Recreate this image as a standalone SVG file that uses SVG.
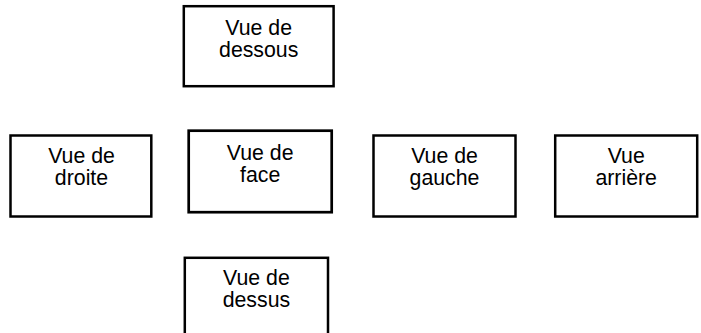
<svg xmlns="http://www.w3.org/2000/svg" width="701" height="333" viewBox="0 0 701 333">
<style>
.box{fill:#fff;stroke:#000;stroke-width:2.5}
.t{font-family:"Liberation Sans",Arial,sans-serif;font-size:21.3px;fill:#000;text-anchor:middle}
</style>
<rect width="701" height="333" fill="#fff"/>
<g id="connectors"></g>
<g id="dessous">
<rect class="box" x="183.8" y="6.2" width="149.8" height="80"/>
<text class="t" x="258.7" y="35">Vue de</text>
<text class="t" x="258.7" y="57">dessous</text>
</g>
<g id="droite">
<rect class="box" x="10.5" y="135.5" width="140.8" height="81"/>
<text class="t" x="81.5" y="163.3">Vue de</text>
<text class="t" x="81.5" y="185">droite</text>
</g>
<g id="face">
<rect class="box" x="188.7" y="130.7" width="143" height="81.5" style="stroke-width:2.7"/>
<text class="t" x="260.2" y="160">Vue de</text>
<text class="t" x="260.2" y="182.2">face</text>
</g>
<g id="gauche">
<rect class="box" x="373.5" y="135.5" width="142" height="81"/>
<text class="t" x="444.5" y="163.3">Vue de</text>
<text class="t" x="444.5" y="185">gauche</text>
</g>
<g id="arriere">
<rect class="box" x="555.2" y="135.5" width="142" height="81"/>
<text class="t" x="626.2" y="163.3">Vue</text>
<text class="t" x="626.2" y="185">arrière</text>
</g>
<g id="dessus">
<rect class="box" x="184.8" y="257.8" width="143.2" height="85"/>
<text class="t" x="256.4" y="285">Vue de</text>
<text class="t" x="256.4" y="306.7">dessus</text>
</g>
</svg>
